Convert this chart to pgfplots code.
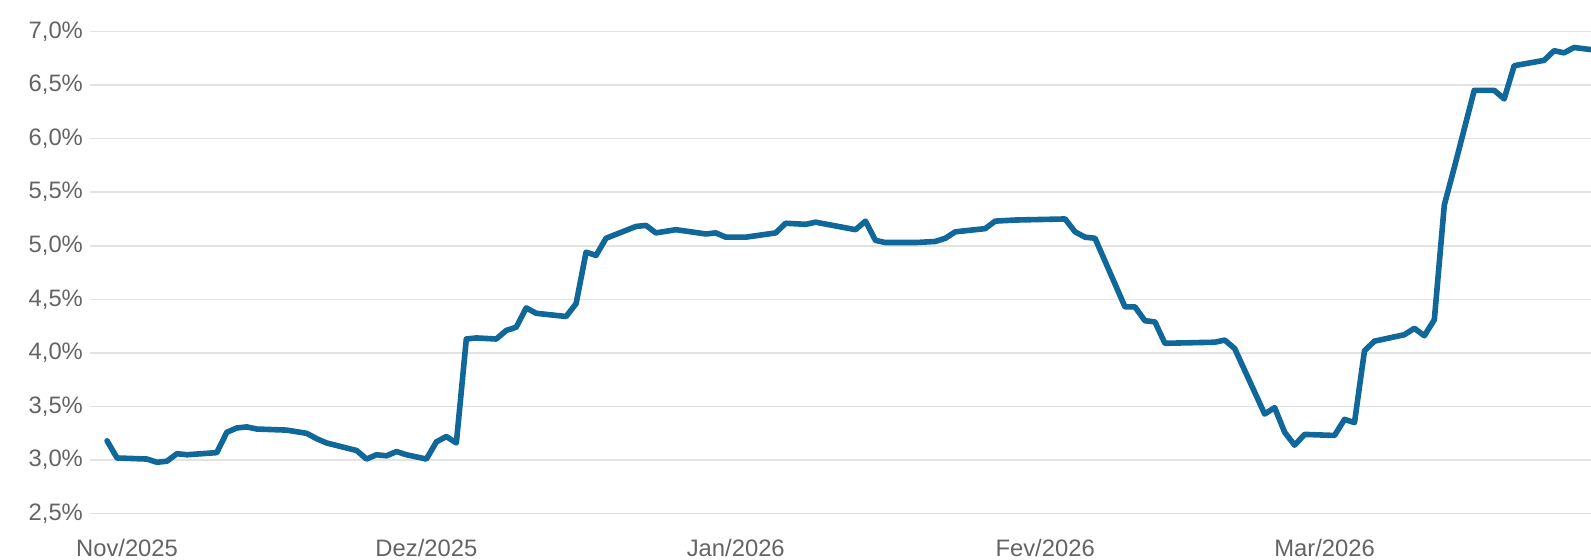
\documentclass[border=0pt]{standalone}
\usepackage{fontspec}
\setmainfont{Liberation Sans}
\usepackage{pgfplots}
\usepackage{pgfplotstable}
\pgfplotsset{compat=1.18}
\definecolor{linec}{HTML}{10679A}
\definecolor{gridc}{HTML}{E3E3E3}
\definecolor{txtc}{HTML}{646464}
\pgfplotstableread{
d v
-2 3.18
-1 3.02
2 3.01
3 2.98
4 2.99
5 3.06
6 3.05
9 3.07
10 3.26
11 3.30
12 3.31
13 3.29
16 3.28
18 3.25
19 3.20
20 3.16
23 3.09
24 3.01
25 3.05
26 3.04
27 3.08
28 3.05
30 3.01
31 3.17
32 3.22
33 3.16
34 4.13
35 4.14
37 4.13
38 4.21
39 4.24
40 4.42
41 4.37
44 4.34
45 4.46
46 4.94
47 4.91
48 5.07
51 5.18
52 5.19
53 5.12
55 5.15
58 5.11
59 5.12
60 5.08
62 5.08
65 5.12
66 5.21
68 5.20
69 5.22
73 5.15
74 5.23
75 5.05
76 5.03
79 5.03
81 5.04
82 5.07
83 5.13
86 5.16
87 5.23
89 5.24
94 5.25
95 5.13
96 5.08
97 5.07
100 4.43
101 4.43
102 4.30
103 4.29
104 4.09
109 4.10
110 4.12
111 4.04
114 3.43
115 3.49
116 3.26
117 3.14
118 3.24
121 3.23
122 3.38
123 3.35
124 4.02
125 4.11
128 4.17
129 4.23
130 4.16
131 4.31
132 5.38
133 5.73
135 6.45
137 6.45
138 6.37
139 6.68
142 6.73
143 6.82
144 6.80
145 6.85
146.7 6.83
}\datatable
\begin{document}
\begin{tikzpicture}
\begin{axis}[
  at={(0,0)}, anchor=south west,
  scale only axis, width=750.25pt, height=241.15pt,
  xmin=-3.66, xmax=146.7, ymin=2.5, ymax=7.0,
  axis line style={draw=none},
  major tick length=0pt, tick style={draw=none},
  ymajorgrids, grid style={gridc, line width=0.75pt},
  ytick={2.5,3.0,3.5,4.0,4.5,5.0,5.5,6.0,6.5,7.0},
  yticklabels={{2,5\%},{3,0\%},{3,5\%},{4,0\%},{4,5\%},{5,0\%},{5,5\%},{6,0\%},{6,5\%},{7,0\%}},
  xtick={0,30,61,92,120},
  xticklabels={Nov/2025,Dez/2025,Jan/2026,Fev/2026,Mar/2026},
  ticklabel style={font=\fontsize{11.9}{14}\selectfont, text=txtc, inner sep=0pt},
  yticklabel style={anchor=east, xshift=-3.6pt},
  xticklabel style={anchor=north, yshift=-12.6pt},
]
\addplot[linec, line width=2.8pt, line join=round, line cap=round] table[x=d, y=v] {\datatable};
\end{axis}
\pgfresetboundingbox
\path[use as bounding box] (-45.25pt,-22.65pt) rectangle (750.25pt,256.85pt);
\end{tikzpicture}
\end{document}
